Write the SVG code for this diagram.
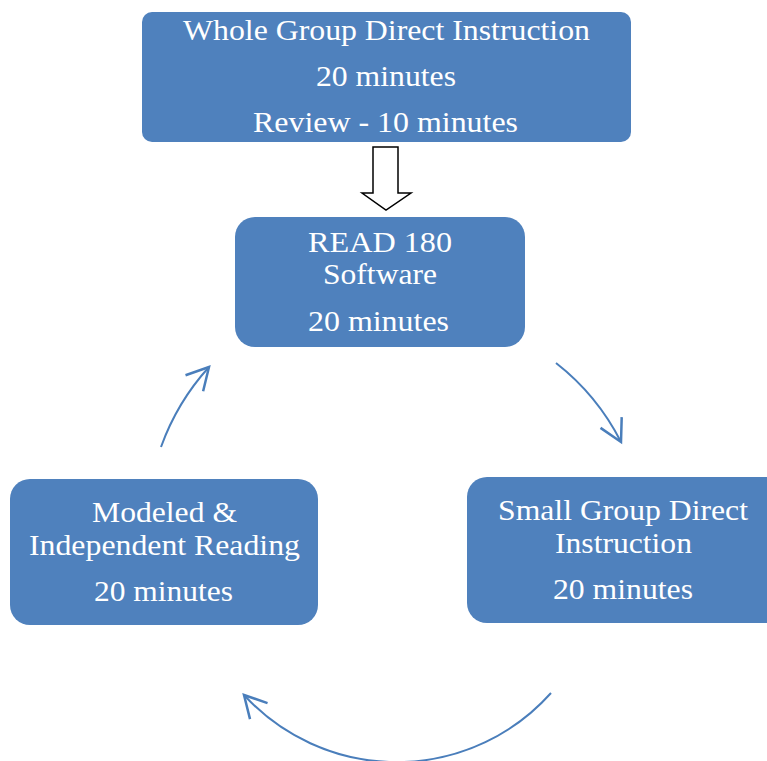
<svg xmlns="http://www.w3.org/2000/svg" width="767" height="761" viewBox="0 0 767 761">
<style>
.box{fill:#4F81BD;}
.t{font-family:"Liberation Serif","Times New Roman",serif;font-size:29px;fill:#FFFFFF;text-anchor:middle;}
.arc{fill:none;stroke:#4A7EBB;stroke-width:2;}
.head{fill:none;stroke:#4A7EBB;stroke-width:2;stroke-linejoin:miter;}
</style>
<defs>
<marker id="chev" markerUnits="userSpaceOnUse" markerWidth="30" markerHeight="30" viewBox="-20 -12 24 24" refX="0" refY="0" orient="auto" overflow="visible">
<path class="head" d="M-17.5,-9.5 L0,0 L-17.5,9.5"/>
</marker>
</defs>
<g id="whole-group">
<rect class="box" x="142" y="12" width="489" height="130" rx="10"/>
<text class="t" x="386.5" y="40" textLength="407" lengthAdjust="spacingAndGlyphs">Whole Group Direct Instruction</text>
<text class="t" x="386" y="86" textLength="140" lengthAdjust="spacingAndGlyphs">20 minutes</text>
<text class="t" x="385.5" y="132" textLength="265" lengthAdjust="spacingAndGlyphs">Review - 10 minutes</text>
</g>
<g id="read180">
<rect class="box" x="235" y="217" width="290" height="130" rx="20"/>
<text class="t" x="380" y="252" textLength="144" lengthAdjust="spacingAndGlyphs">READ 180</text>
<text class="t" x="380" y="284" textLength="114" lengthAdjust="spacingAndGlyphs">Software</text>
<text class="t" x="378.5" y="331" textLength="141" lengthAdjust="spacingAndGlyphs">20 minutes</text>
</g>
<g id="small-group">
<rect class="box" x="467" y="477" width="320" height="146" rx="20"/>
<text class="t" x="623" y="520" textLength="250" lengthAdjust="spacingAndGlyphs">Small Group Direct</text>
<text class="t" x="623.5" y="553" textLength="137" lengthAdjust="spacingAndGlyphs">Instruction</text>
<text class="t" x="623" y="599" textLength="140" lengthAdjust="spacingAndGlyphs">20 minutes</text>
</g>
<g id="modeled">
<rect class="box" x="10" y="479" width="308" height="146" rx="20"/>
<text class="t" x="164.5" y="522" textLength="145" lengthAdjust="spacingAndGlyphs">Modeled &amp;</text>
<text class="t" x="164.5" y="555" textLength="271" lengthAdjust="spacingAndGlyphs">Independent Reading</text>
<text class="t" x="163.5" y="601" textLength="139" lengthAdjust="spacingAndGlyphs">20 minutes</text>
</g>
<g id="connectors">
<path d="M373,147 H398 V193 H411 L386,210 L362,193 H373 Z" fill="#FFFFFF" stroke="#000000" stroke-width="1.5"/>
<path class="arc" d="M556,363 A235,235 0 0 1 621,442" marker-end="url(#chev)"/>
<path class="arc" d="M551,693 A207,207 0 0 1 244,695" marker-end="url(#chev)"/>
<path class="arc" d="M161,447 A240,240 0 0 1 209,367" marker-end="url(#chev)"/>
</g>
</svg>
